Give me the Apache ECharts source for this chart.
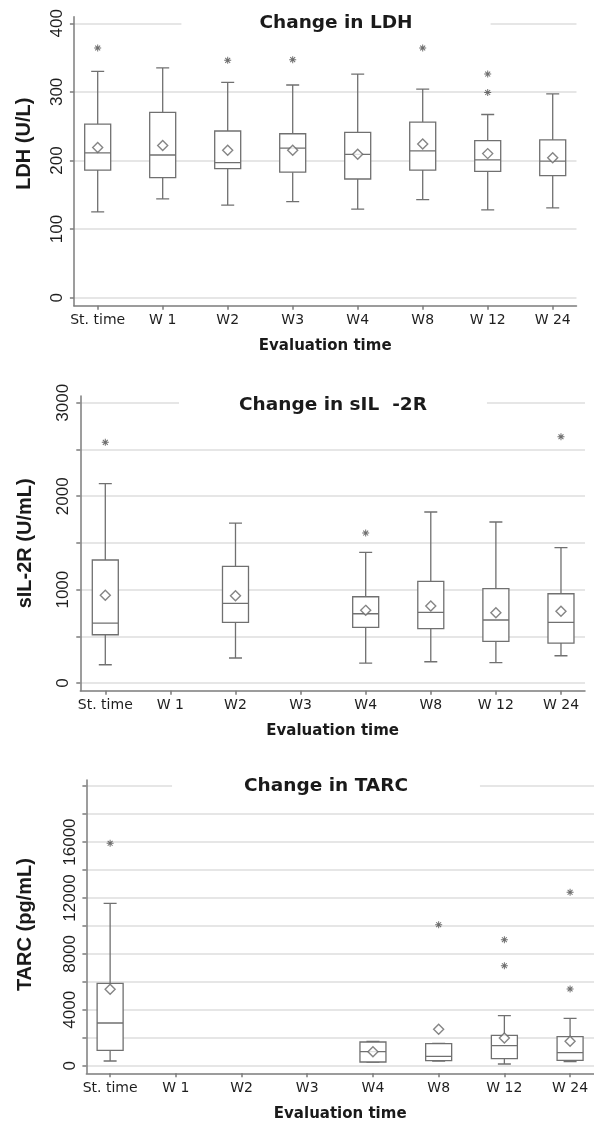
<!DOCTYPE html>
<html><head><meta charset="utf-8">
<script src="https://cdn.jsdelivr.net/npm/echarts@6/dist/echarts.min.js"></script>
<style>html,body{margin:0;padding:0;background:#fff}#c{width:594px;height:1124px}</style>
</head><body><div id="c"></div>
<script>
// ---------- DATA ----------
const categories = ['St. time', 'W 1', 'W2', 'W3', 'W4', 'W8', 'W 12', 'W 24'];

// LDH (U/L)
const ldhMin  = [125, 144, 135, 140, 129, 143, 128, 131];
const ldhQ1   = [186, 175, 188, 183, 173, 186, 184, 178];
const ldhMed  = [211, 208, 197, 218, 209, 214, 201, 199];
const ldhQ3   = [253, 270, 243, 239, 241, 256, 229, 230];
const ldhMax  = [330, 335, 314, 310, 326, 304, 267, 297];
const ldhMean = [219, 222, 215, 215, 209, 224, 210, 204];
const ldhOutliers = [[0, 364], [2, 346], [3, 347], [5, 364], [6, 326], [6, 299]];
const ldhTicks  = [0, 100, 200, 300, 400];
const ldhLabels = [0, 100, 200, 300, 400];

// sIL-2R (U/mL)
const silMin  = [196, null, 268, null, 214, 228, 218, 292];
const silQ1   = [517, null, 650, null, 596, 582, 446, 428];
const silMed  = [642, null, 853, null, 742, 757, 675, 650];
const silQ3   = [1317, null, 1249, null, 924, 1089, 1010, 956];
const silMax  = [2134, null, 1713, null, 1399, 1831, 1724, 1449];
const silMean = [939, null, 935, null, 778, 824, 753, 768];
const silOutliers = [[0, 2577], [4, 1606], [7, 2637]];
const silTicks  = [0, 500, 1000, 1500, 2000, 2500, 3000];
const silLabels = [0, 1000, 2000, 3000];

// TARC (pg/mL)
const tarcMin  = [336, null, null, null, 250, 330, 122, 286];
const tarcQ1   = [1100, null, null, null, 265, 358, 501, 386];
const tarcMed  = [3055, null, null, null, 1002, 672, 1431, 930];
const tarcQ3   = [5896, null, null, null, 1696, 1574, 2175, 2075];
const tarcMax  = [11621, null, null, null, 1730, 1600, 3578, 3391];
const tarcMean = [5467, null, null, null, 1002, 2604, 1982, 1746];
const tarcOutliers = [[0, 15914], [5, 10090], [6, 9016], [6, 7156], [7, 12408], [7, 5488]];
const tarcTicks  = [0, 2000, 4000, 6000, 8000, 10000, 12000, 14000, 16000, 18000, 20000];
const tarcLabels = [0, 4000, 8000, 12000, 16000];

// ---------- LAYOUT ----------
const panels = [
  { title: 'Change in LDH', yName: 'LDH (U/L)',
    mins: ldhMin, q1: ldhQ1, med: ldhMed, q3: ldhQ3, maxs: ldhMax, mean: ldhMean, out: ldhOutliers,
    ticks: ldhTicks, labels: ldhLabels, yMin: -11.7, yMax: 409.6,
    grid: { left: 73.9, top: 16.7, width: 502.6, height: 289 }, xMin: -0.366, xMax: 7.366,
    titleX: 336, titleY: 23, titlePad: 78, nameGap: 39, namePad: [0, 0, 0, 35] },
  { title: 'Change in sIL  -2R', yName: 'sIL-2R (U/mL)',
    mins: silMin, q1: silQ1, med: silMed, q3: silQ3, maxs: silMax, mean: silMean, out: silOutliers,
    ticks: silTicks, labels: silLabels, yMin: -82, yMax: 3073,
    grid: { left: 80.3, top: 396, width: 504.7, height: 294.7 }, xMin: -0.384, xMax: 7.369,
    titleX: 333, titleY: 405, titlePad: 60, nameGap: 45, namePad: [0, 0, 0, 0] },
  { title: 'Change in TARC', yName: 'TARC (pg/mL)',
    mins: tarcMin, q1: tarcQ1, med: tarcMed, q3: tarcQ3, maxs: tarcMax, mean: tarcMean, out: tarcOutliers,
    ticks: tarcTicks, labels: tarcLabels, yMin: -544, yMax: 20443,
    grid: { left: 86.4, top: 780, width: 509, height: 293.3 }, xMin: -0.361, xMax: 7.364,
    titleX: 326, titleY: 786, titlePad: 72, nameGap: 51, namePad: [0, 0, 0, 4] }
];

const AXIS_COLOR = '#7c7c7c';
const BOX_COLOR = '#707070';
const catIdx = categories.map((c, i) => i);
const asterisk = 'path://M4.3,0 h1.4 v10 h-1.4 z M0,4.3 h10 v1.4 h-10 z M1.0,2.0 L2.0,1.0 L9.0,8.0 L8.0,9.0 Z M8.0,1.0 L9.0,2.0 L2.0,9.0 L1.0,8.0 Z';

const option = { animation: false, title: [], grid: [], xAxis: [], yAxis: [], series: [] };

panels.forEach((p, i) => {
  option.title.push({
    text: p.title, left: p.titleX - p.titlePad, top: p.titleY - 3,
    textAlign: 'center', textVerticalAlign: 'middle',
    padding: [3, p.titlePad, 3, p.titlePad], backgroundColor: '#fff',
    textStyle: { fontFamily: 'DejaVu Sans', fontWeight: 'bold', fontSize: 18.5, color: '#1a1a1a' }
  });
  option.grid.push(Object.assign({ containLabel: false }, p.grid));
  option.xAxis.push({
    gridIndex: i, type: 'value', min: p.xMin, max: p.xMax,
    axisLine: { show: true, onZero: false, lineStyle: { color: AXIS_COLOR, width: 1.5 } },
    axisTick: { show: true, length: 4, customValues: catIdx, lineStyle: { color: AXIS_COLOR, width: 1.5 } },
    axisLabel: { customValues: catIdx, formatter: v => categories[Math.round(v)], margin: 8,
      fontFamily: 'DejaVu Sans', fontSize: 14, color: '#1e1e1e' },
    splitLine: { show: false },
    name: 'Evaluation time', nameLocation: 'middle', nameGap: 33,
    nameTextStyle: { fontFamily: 'DejaVu Sans', fontWeight: 'bold', fontSize: 15, color: '#1a1a1a' }
  });
  option.xAxis.push({ gridIndex: i, type: 'value', min: p.xMin, max: p.xMax, show: false });
  option.yAxis.push({
    gridIndex: i, type: 'value', min: p.yMin, max: p.yMax,
    axisLine: { show: true, onZero: false, lineStyle: { color: AXIS_COLOR, width: 1.5 } },
    axisTick: { show: true, length: 4, customValues: p.ticks, lineStyle: { color: AXIS_COLOR, width: 1.5 } },
    axisLabel: { customValues: p.labels, rotate: 90, margin: 8, formatter: v => String(v),
      fontFamily: 'Liberation Sans', fontSize: 17, color: '#1e1e1e' },
    splitLine: { show: true, lineStyle: { color: '#dedede', width: 1.5 } },
    name: p.yName, nameLocation: 'middle', nameGap: p.nameGap,
    nameTextStyle: { fontFamily: 'Liberation Sans', fontWeight: 'bold', fontSize: 20, color: '#1a1a1a',
      padding: p.namePad }
  });

  const whiskers = [], boxes = [], means = [];
  categories.forEach((c, k) => {
    if (p.mins[k] == null) return;
    whiskers.push([k, p.mins[k], p.med[k], p.med[k], p.med[k], p.maxs[k]]);
    boxes.push([k, p.q1[k], p.q1[k], p.med[k], p.q3[k], p.q3[k]]);
    means.push([k, p.mean[k]]);
  });
  // whiskers with short caps (on a hidden twin x axis so boxes are not grouped side by side)
  option.series.push({
    type: 'boxplot', xAxisIndex: 2 * i + 1, yAxisIndex: i, data: whiskers, boxWidth: [13, 13],
    silent: true, z: 2,
    itemStyle: { color: 'transparent', borderColor: BOX_COLOR, borderWidth: 1.3 }
  });
  option.series.push({
    type: 'boxplot', xAxisIndex: 2 * i, yAxisIndex: i, data: boxes, boxWidth: [26, 26],
    silent: true, z: 3,
    itemStyle: { color: '#fff', borderColor: BOX_COLOR, borderWidth: 1.3 }
  });
  option.series.push({
    type: 'scatter', xAxisIndex: 2 * i, yAxisIndex: i, data: means, symbol: 'diamond', symbolSize: [10, 10],
    silent: true, z: 4,
    itemStyle: { color: '#fff', borderColor: '#666', borderWidth: 1.4 }
  });
  option.series.push({
    type: 'scatter', xAxisIndex: 2 * i, yAxisIndex: i, data: p.out, symbol: asterisk, symbolSize: 7,
    silent: true, z: 4,
    itemStyle: { color: '#4a4a4a' }
  });
});

const chart = echarts.init(document.getElementById('c'), null, { renderer: 'canvas' });
chart.setOption(option);
</script>
</body></html>
